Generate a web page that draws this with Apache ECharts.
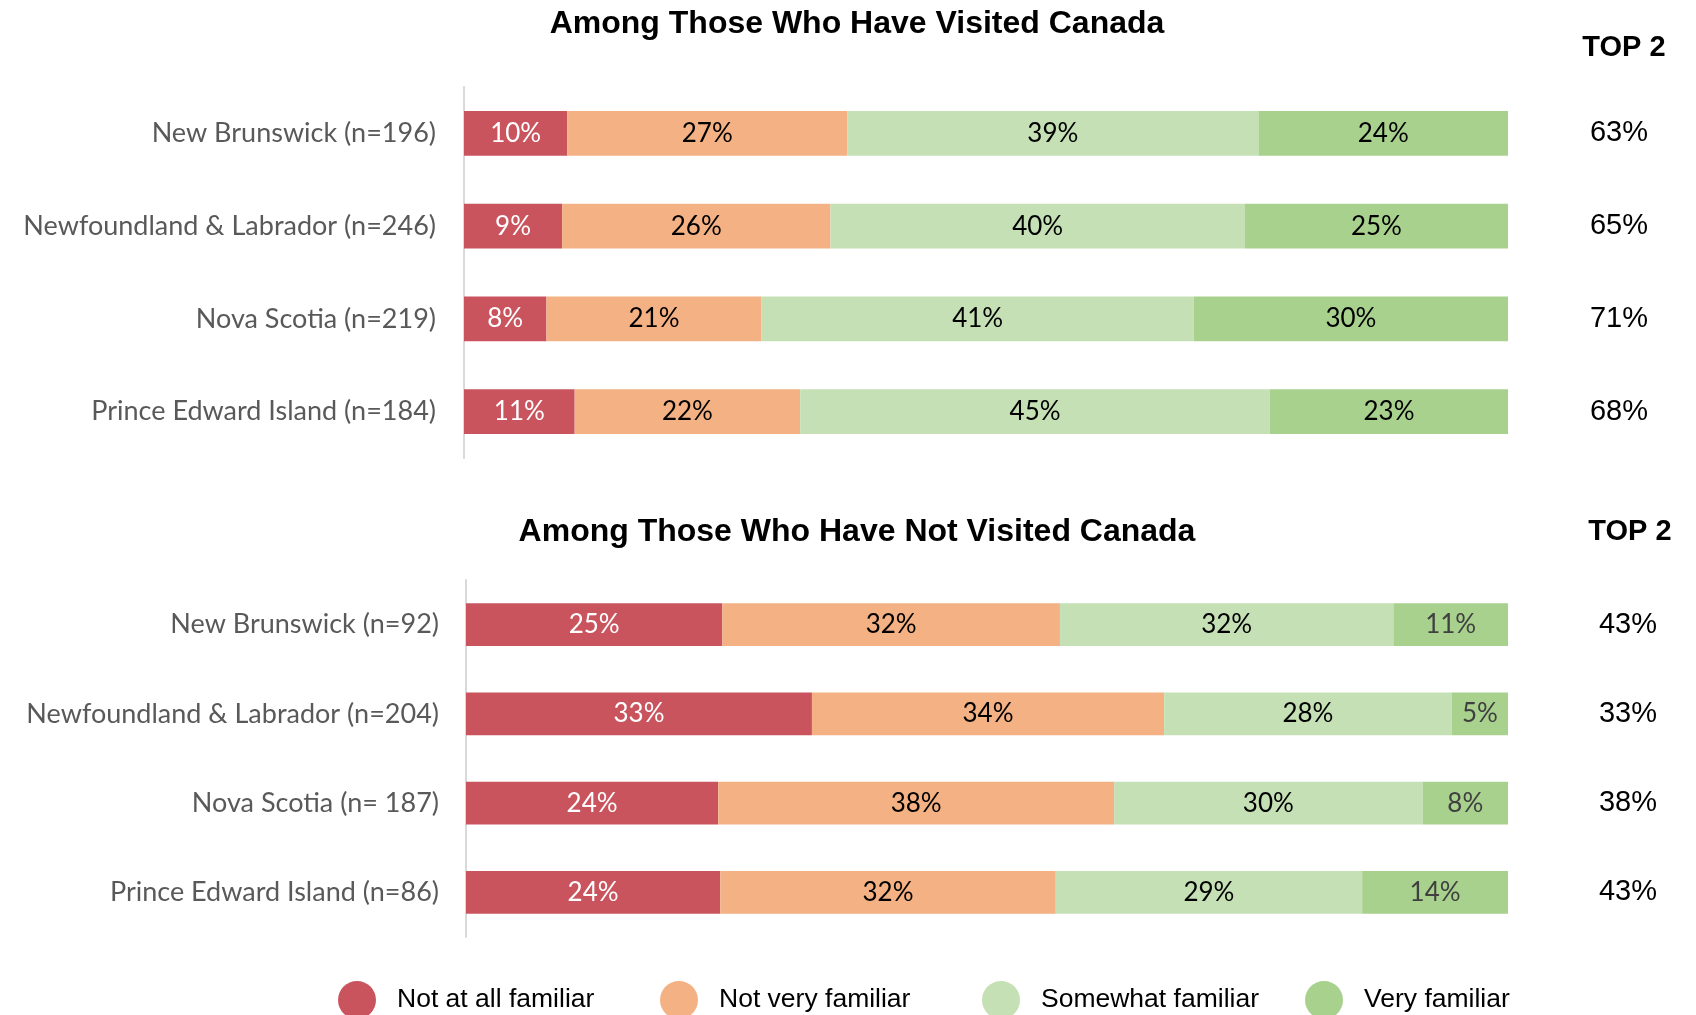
<!DOCTYPE html>
<html>
<head>
<meta charset="utf-8">
<script src="https://cdn.jsdelivr.net/npm/echarts@6/dist/echarts.min.js"></script>
<style>
  html, body { margin: 0; padding: 0; background: #ffffff; }
  #chart { width: 1696px; height: 1015px; }
</style>
</head>
<body>
<div id="chart"></div>
<script>
// ---- Data ----
const categoriesVisited = ['New Brunswick (n=196)', 'Newfoundland & Labrador (n=246)', 'Nova Scotia (n=219)', 'Prince Edward Island (n=184)'];
const categoriesNotVisited = ['New Brunswick (n=92)', 'Newfoundland & Labrador (n=204)', 'Nova Scotia (n= 187)', 'Prince Edward Island (n=86)'];
const seriesNames = ['Not at all familiar', 'Not very familiar', 'Somewhat familiar', 'Very familiar'];

// Among those who have visited Canada (% of respondents)
const visitedNotAtAll   = [9.9, 9.4, 7.9, 10.6];
const visitedNotVery    = [26.8, 25.7, 20.6, 21.6];
const visitedSomewhat   = [39.4, 39.7, 41.4, 45.0];
const visitedVery       = [23.9, 25.2, 30.1, 22.8];
const top2Visited       = [63, 65, 71, 68];

// Among those who have not visited Canada (% of respondents)
const notVisitedNotAtAll = [24.6, 33.2, 24.2, 24.4];
const notVisitedNotVery  = [32.4, 33.8, 38.0, 32.2];
const notVisitedSomewhat = [32.0, 27.6, 29.6, 29.4];
const notVisitedVery     = [11.0, 5.4, 8.2, 14.0];
const top2NotVisited     = [43, 33, 38, 43];

const titleVisited = 'Among Those Who Have Visited Canada';
const titleNotVisited = 'Among Those Who Have Not Visited Canada';
const top2Header = 'TOP 2';

// ---- Styling ----
const colors = ['#C9545E', '#F4B183', '#C5E0B4', '#A9D18E'];
const labelFont = 'Lato, "Open Sans", sans-serif';
const arialFont = '"Liberation Sans", Arial, sans-serif';

const chart = echarts.init(document.getElementById('chart'), null, { renderer: 'canvas' });

function makeSeries(gridIdx, datasets, veryColor) {
  const labelColors = ['#ffffff', '#000000', '#000000', veryColor];
  return datasets.map((d, i) => ({
    name: seriesNames[i],
    type: 'bar',
    stack: 'g' + gridIdx,
    xAxisIndex: gridIdx,
    yAxisIndex: gridIdx * 2,
    barWidth: '48%',
    data: d,
    itemStyle: { color: colors[i] },
    label: {
      show: true,
      position: 'inside',
      formatter: p => Math.round(p.value) + '%',
      color: labelColors[i],
      fontFamily: labelFont,
      fontSize: 26,
      padding: [4, 0, 0, 0]
    },
    emphasis: { disabled: true },
    animation: false
  }));
}

const legendLefts = [333, 655, 977, 1300];

const option = {
  backgroundColor: '#ffffff',
  animation: false,
  title: [
    { text: titleVisited, left: 852, top: 3, textAlign: 'center',
      textStyle: { fontFamily: arialFont, fontWeight: 'bold', fontSize: 32, color: '#000' } },
    { text: titleNotVisited, left: 852, top: 511, textAlign: 'center',
      textStyle: { fontFamily: arialFont, fontWeight: 'bold', fontSize: 32, color: '#000' } },
    { text: top2Header, left: 1619, top: 28, textAlign: 'center',
      textStyle: { fontFamily: arialFont, fontWeight: 'bold', fontSize: 29, color: '#000' } },
    { text: top2Header, left: 1625, top: 512, textAlign: 'center',
      textStyle: { fontFamily: arialFont, fontWeight: 'bold', fontSize: 29, color: '#000' } }
  ],
  legend: seriesNames.map((n, i) => ({
    data: [n],
    left: legendLefts[i],
    top: 976,
    icon: 'circle',
    itemWidth: 38,
    itemHeight: 38,
    selectedMode: false,
    textStyle: { fontFamily: arialFont, fontSize: 26.5, color: '#000', padding: [0, 0, 0, 16] }
  })),
  grid: [
    { left: 464, right: 188, top: 87, height: 371 },
    { left: 466, right: 188, top: 580, height: 357 }
  ],
  xAxis: [
    { type: 'value', gridIndex: 0, min: 0, max: 100, show: false },
    { type: 'value', gridIndex: 1, min: 0, max: 100, show: false }
  ],
  yAxis: [
    { type: 'category', gridIndex: 0, data: categoriesVisited, inverse: true,
      axisLine: { show: true, lineStyle: { color: '#D9D9D9', width: 2 } },
      axisTick: { show: false },
      axisLabel: { margin: 28, color: '#595959', fontFamily: labelFont, fontSize: 27 } },
    { type: 'category', gridIndex: 0, position: 'right', data: top2Visited.map(v => v + '%'), inverse: true,
      axisLine: { show: false }, axisTick: { show: false },
      axisLabel: { margin: 111, align: 'center', color: '#000', fontFamily: arialFont, fontSize: 29 } },
    { type: 'category', gridIndex: 1, data: categoriesNotVisited, inverse: true,
      axisLine: { show: true, lineStyle: { color: '#D9D9D9', width: 2 } },
      axisTick: { show: false },
      axisLabel: { margin: 27, color: '#595959', fontFamily: labelFont, fontSize: 27 } },
    { type: 'category', gridIndex: 1, position: 'right', data: top2NotVisited.map(v => v + '%'), inverse: true,
      axisLine: { show: false }, axisTick: { show: false },
      axisLabel: { margin: 120, align: 'center', color: '#000', fontFamily: arialFont, fontSize: 29,
                   padding: [0, 0, 20, 0] } }
  ],
  series: [
    ...makeSeries(0, [visitedNotAtAll, visitedNotVery, visitedSomewhat, visitedVery], '#000000'),
    ...makeSeries(1, [notVisitedNotAtAll, notVisitedNotVery, notVisitedSomewhat, notVisitedVery], '#404040')
  ]
};

chart.setOption(option);
</script>
</body>
</html>
